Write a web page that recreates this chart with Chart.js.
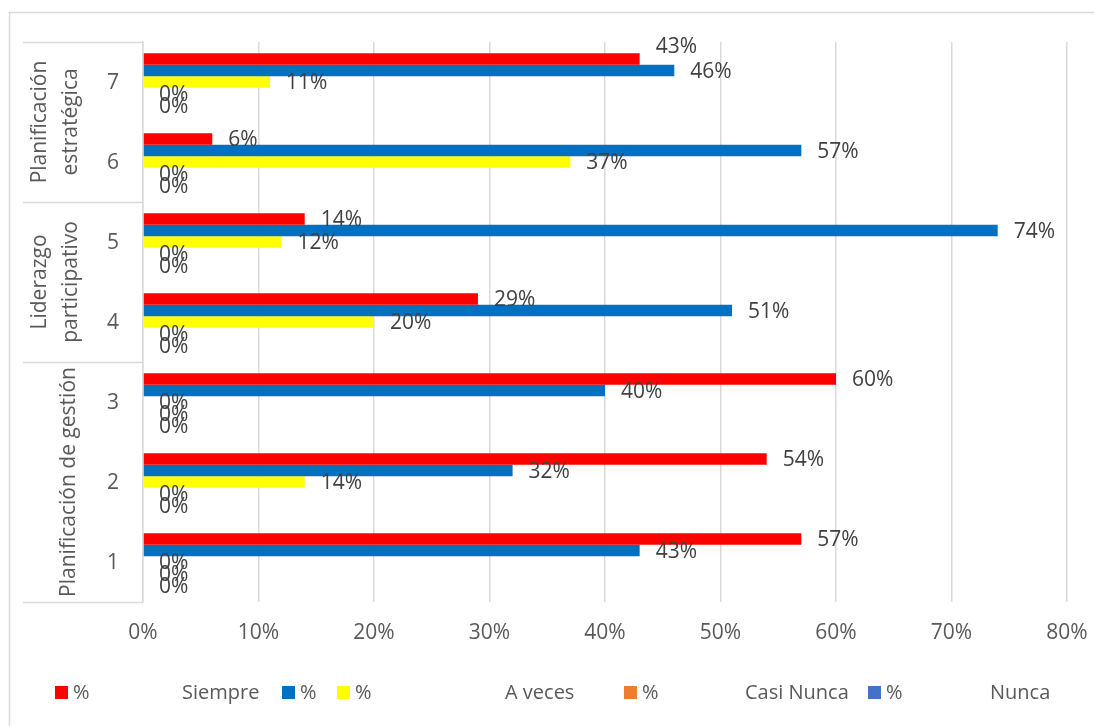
<!DOCTYPE html>
<html>
<head>
<meta charset="utf-8">
<script src="https://cdn.jsdelivr.net/npm/chart.js@4/dist/chart.umd.min.js"></script>
<style>
  html, body { margin: 0; padding: 0; background: #fff; }
  #wrap { width: 1094px; height: 726px; position: relative; }
</style>
</head>
<body>
<div id="wrap"><canvas id="c" width="1094" height="726"></canvas></div>
<script>
// ---- data ----
const categories = ['7', '6', '5', '4', '3', '2', '1'];
const groupNames = [['Planificación', 'estratégica'], ['Liderazgo', 'participativo'], ['Planificación de gestión']];
const groupSizes = [2, 2, 3];
const seriesLabels = ['%', '%', '%', '%', '%'];
const legendNotes = ['Siempre', '', 'A veces', 'Casi Nunca', 'Nunca'];
const serieRed    = [43, 6, 14, 29, 60, 54, 57];
const serieBlue   = [46, 57, 74, 51, 40, 32, 43];
const serieYellow = [11, 37, 12, 20, 0, 14, 0];
const serieOrange = [0, 0, 0, 0, 0, 0, 0];
const serieNavy   = [0, 0, 0, 0, 0, 0, 0];
const xTicks = [0, 10, 20, 30, 40, 50, 60, 70, 80];

const colors = ['#FF0000', '#0070C0', '#FFFF00', '#ED7D31', '#4472C4'];
const FONT = '"Open Sans", "Liberation Sans", sans-serif';
const FS = 21;
const TXT = '#595959';
const GRID = '#d9d9d9';

const series = [serieRed, serieBlue, serieYellow, serieOrange, serieNavy];

const decorPlugin = {
  id: 'decor',
  beforeDraw(chart) {
    const ctx = chart.ctx;
    ctx.save();
    ctx.fillStyle = '#fff';
    ctx.fillRect(0, 0, chart.width, chart.height);
    ctx.strokeStyle = GRID;
    ctx.lineWidth = 1.5;
    ctx.strokeRect(9.5, 12.5, 1200, 800);
    ctx.restore();
  },
  afterDraw(chart) {
    const ctx = chart.ctx;
    const y = chart.scales.y;
    const ca = chart.chartArea;
    ctx.save();
    ctx.strokeStyle = GRID;
    ctx.lineWidth = 1.5;
    const bounds = [ca.top];
    let idx = 0;
    groupSizes.forEach((n) => {
      idx += n;
      if (idx < categories.length) {
        bounds.push((y.getPixelForValue(idx - 1) + y.getPixelForValue(idx)) / 2);
      } else {
        bounds.push(ca.bottom);
      }
    });
    bounds.forEach(b => {
      ctx.beginPath();
      ctx.moveTo(23, Math.round(b) + 0.5);
      ctx.lineTo(ca.left, Math.round(b) + 0.5);
      ctx.stroke();
    });
    ctx.fillStyle = TXT;
    ctx.font = FS + 'px ' + FONT;
    ctx.textAlign = 'center';
    ctx.textBaseline = 'middle';
    categories.forEach((c, i) => {
      ctx.fillText(c, 113, y.getPixelForValue(i) + 1);
    });
    groupNames.forEach((lines, g) => {
      const top = bounds[g], bot = bounds[g + 1];
      const cy = (top + bot) / 2;
      const lh = 31;
      const n = lines.length;
      const cx0 = n === 1 ? 69 : 40;
      lines.forEach((ln, k) => {
        ctx.save();
        ctx.translate(cx0 + k * lh, cy);
        ctx.rotate(-Math.PI / 2);
        ctx.textAlign = 'center';
        ctx.textBaseline = 'middle';
        ctx.fillText(ln, 0, 0);
        ctx.restore();
      });
    });
    // legend
    const legX = [55, 282, 337, 624, 868];
    const noteX = [182, null, 505, 745, 990];
    const ly = 693;
    ctx.font = '20px ' + FONT;
    ctx.textAlign = 'left';
    ctx.textBaseline = 'middle';
    chart.data.datasets.forEach((ds, i) => {
      ctx.fillStyle = ds.backgroundColor;
      ctx.fillRect(legX[i], ly - 7, 13, 13);
      ctx.fillStyle = TXT;
      ctx.fillText(seriesLabels[i], legX[i] + 18, ly);
      if (legendNotes[i]) ctx.fillText(legendNotes[i], noteX[i], ly);
    });
    ctx.restore();
  },
  afterDatasetsDraw(chart) {
    const ctx = chart.ctx;
    ctx.save();
    ctx.fillStyle = '#404040';
    ctx.font = FS + 'px ' + FONT;
    ctx.textAlign = 'left';
    ctx.textBaseline = 'middle';
    chart.data.datasets.forEach((ds, di) => {
      const meta = chart.getDatasetMeta(di);
      meta.data.forEach((bar, i) => {
        let dy = 1.5;
        if (di === 0 && i === 0) dy = -12; // Excel moved this label up
        ctx.fillText(ds.data[i] + '%', bar.x + 16, bar.y + dy);
      });
    });
    ctx.restore();
  }
};

new Chart(document.getElementById('c'), {
  type: 'bar',
  data: {
    labels: categories,
    datasets: series.map((s, i) => ({
      label: seriesLabels[i],
      data: s,
      backgroundColor: colors[i],
      borderWidth: 0,
      categoryPercentage: 0.72,
      barPercentage: 1.0
    }))
  },
  options: {
    indexAxis: 'y',
    responsive: false,
    animation: false,
    layout: { padding: { left: 23, right: 27, top: 42, bottom: 80 } },
    plugins: { legend: { display: false }, tooltip: { enabled: false } },
    scales: {
      x: {
        min: 0, max: 80,
        afterBuildTicks(scale) { scale.ticks = xTicks.map(v => ({ value: v })); },
        afterFit(scale) { scale.height = 44; scale.paddingLeft = 0; scale.paddingRight = 0; },
        grid: { color: GRID, lineWidth: 1.5, drawTicks: false },
        border: { display: false },
        ticks: { color: TXT, font: { family: FONT, size: FS }, padding: 18, callback: v => v + '%' }
      },
      y: {
        afterFit(scale) { scale.width = 120; },
        grid: { display: false },
        border: { display: true, color: GRID, width: 1.5 },
        ticks: { display: false }
      }
    }
  },
  plugins: [decorPlugin]
});
</script>
</body>
</html>
